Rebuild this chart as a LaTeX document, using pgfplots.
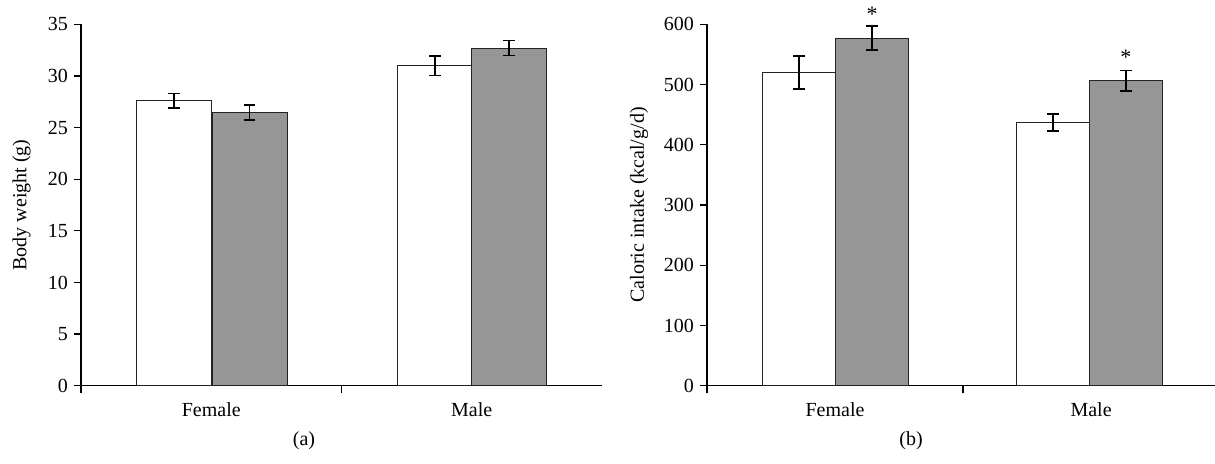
\documentclass[border=0pt]{standalone}
\usepackage{fontspec}
\setmainfont{Liberation Serif}
\usepackage{pgfplots}
\pgfplotsset{compat=1.18}

\definecolor{barfill}{RGB}{150,150,150}
\definecolor{edge}{RGB}{35,35,35}

\pgfplotsset{
  panel/.style={
    scale only axis,
    anchor=south west,
    height=180.7pt,
    axis lines=left,
    axis line style={-, line width=0.6pt, black},
    xmin=0, ymin=0,
    xtick={0,1}, xticklabels={},
    extra x ticks={0.5,1.5},
    extra x tick labels={Female,Male},
    extra x tick style={major tick length=0pt,
      xticklabel style={yshift=-5pt}},
    tick align=outside,
    major tick length=3.5pt,
    tick style={black, line width=0.6pt},
    ticklabel style={font=\fontsize{10}{12}\selectfont},
    /pgf/number format/assume math mode=true,
    yticklabel style={xshift=0.5pt},
    every axis y label/.style={rotate=90, anchor=center,
      font=\fontsize{10}{12}\selectfont},
    clip=false,
    error bars/y dir=both,
    error bars/y explicit,
    error bars/error bar style={line width=0.8pt, black},
    error bars/error mark options={rotate=90, mark size=2.9pt, line width=0.8pt, black},
  },
  whitebar/.style={ybar, fill=white, draw=edge, line width=0.5pt},
  graybar/.style={ybar, fill=barfill, draw=edge, line width=0.5pt},
}

\begin{document}
\begin{tikzpicture}
\useasboundingbox (0,0) rectangle (607.5pt,231.5pt);

% (a) body weight
\begin{axis}[panel,
  at={(40.5pt,38.65pt)}, width=260.5pt,
  xmax=2, ymax=35, ytick={0,5,...,35},
  ylabel={Body weight (g)},
  every axis y label/.append style={at={(rel axis cs:-0.1138,0.5)}},
]
\addplot[whitebar, bar width=0.288] coordinates {
  (0.357,27.6) +- (0,0.7)
  (1.358,31.0) +- (0,0.95)
};
\addplot[graybar, bar width=0.288] coordinates {
  (0.647,26.45) +- (0,0.72)
  (1.644,32.7) +- (0,0.72)
};
\end{axis}

% (b) caloric intake
\begin{axis}[panel,
  at={(353.5pt,38.65pt)}, width=254pt,
  xmax=1.984, ymax=600, ytick={0,100,...,600},
  ylabel={Caloric intake (kcal/g/d)},
  every axis y label/.append style={at={(rel axis cs:-0.1339,0.5)}},
]
\addplot[whitebar, bar width=0.285] coordinates {
  (0.359,520) +- (0,27)
  (1.352,437) +- (0,14)
};
\addplot[graybar, bar width=0.285,
  nodes near coords={*},
  every node near coord/.style={anchor=center, yshift=12pt,
    font=\fontsize{11}{12}\selectfont, black}] coordinates {
  (0.645,577) +- (0,20)
  (1.636,506) +- (0,17)
};
\end{axis}

\node[font=\fontsize{10}{12}\selectfont] at (152pt,11pt) {(a)};
\node[font=\fontsize{10}{12}\selectfont] at (455.5pt,11pt) {(b)};
\end{tikzpicture}
\end{document}
